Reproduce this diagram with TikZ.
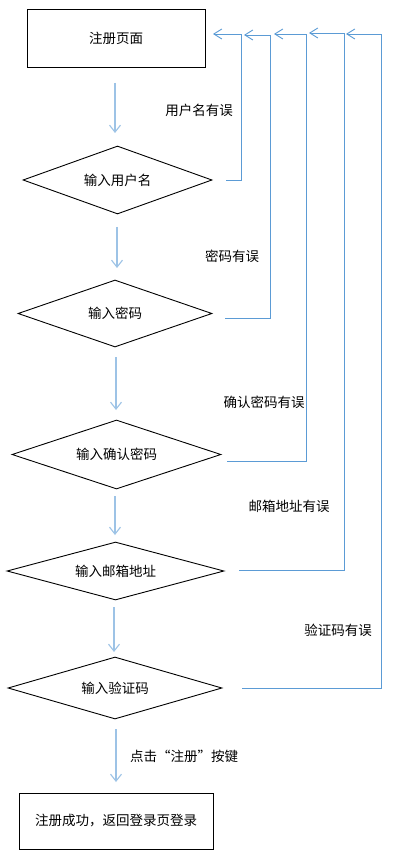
\documentclass[tikz,border=0pt]{standalone}
\usepackage{fontspec}
\setmainfont{Noto Sans CJK SC}
\usetikzlibrary{shapes.geometric,arrows.meta}
\definecolor{fb}{HTML}{5B9BD5}
\definecolor{dn}{HTML}{9DC3E6}
\begin{document}
\begin{tikzpicture}[x=1pt,y=-1pt,
 txt/.style={font=\fontsize{13.5}{15}\selectfont},
 box/.style={draw=black,line width=0.9pt,inner sep=0pt,txt},
 dia/.style={diamond,aspect=4,draw=black,line width=0.9pt,inner sep=0pt,txt},
 lbl/.style={inner sep=0pt,txt},
 down/.style={draw=dn,line width=1.1pt,-{Straight Barb[length=7pt,width=11pt]}},
 backarr/.style={draw=fb,line width=0.9pt,-{Straight Barb[length=8pt,width=10pt]}}]
\useasboundingbox (0,0) rectangle (403,858);
\fill[white] (0,0) rectangle (403,858);
% nodes
\node[box,minimum width=178pt,minimum height=58pt] (reg) at (116,38) {注册页面};
\node[dia,minimum width=189pt,minimum height=68pt] (d1) at (117.5,180) {输入用户名};
\node[dia,minimum width=194pt,minimum height=67pt] (d2) at (115,313.5) {输入密码};
\node[dia,minimum width=209pt,minimum height=69pt] (d3) at (116.5,454.5) {输入确认密码};
\node[dia,minimum width=217pt,minimum height=58pt] (d4) at (115.5,571) {输入邮箱地址};
\node[dia,minimum width=214pt,minimum height=62pt] (d5) at (115,688) {输入验证码};
\node[box,minimum width=194pt,minimum height=56pt] (ok) at (116,821) {注册成功，返回登录页登录};
% labels
\node[lbl] (l1) at (199,110) {用户名有误};
\node[lbl] (l2) at (232,256) {密码有误};
\node[lbl] (l3) at (264,402) {确认密码有误};
\node[lbl] (l4) at (289,506) {邮箱地址有误};
\node[lbl] (l5) at (338,630) {验证码有误};
\node[lbl] (l6) at (184,756) {点击“注册”按键};
% down arrows
\coordinate (a1s) at (115,83);  \coordinate (a1e) at (115,133);
\coordinate (a2s) at (117,227); \coordinate (a2e) at (117,268);
\coordinate (a3s) at (116,357); \coordinate (a3e) at (116,410);
\coordinate (a4s) at (115,496); \coordinate (a4e) at (115,535);
\coordinate (a5s) at (114,607); \coordinate (a5e) at (114,652);
\coordinate (a6s) at (116,729); \coordinate (a6e) at (116,782);
\foreach \i in {1,...,6}{\draw[down] (a\i s) -- (a\i e);}
% feedback lines
\coordinate (f1) at (226,180); \coordinate (v1) at (241,34); \coordinate (h1) at (213,34);
\coordinate (f2) at (225,318); \coordinate (v2) at (270,35); \coordinate (h2) at (244,35);
\coordinate (f3) at (227,461); \coordinate (v3) at (306,34); \coordinate (h3) at (274,34);
\coordinate (f4) at (239,570); \coordinate (v4) at (344,33); \coordinate (h4) at (309,33);
\coordinate (f5) at (242,688); \coordinate (v5) at (381,34); \coordinate (h5) at (346,34);
\foreach \i in {1,...,5}{\draw[backarr] (f\i) -| (v\i) -- (h\i);}
\end{tikzpicture}
\end{document}
